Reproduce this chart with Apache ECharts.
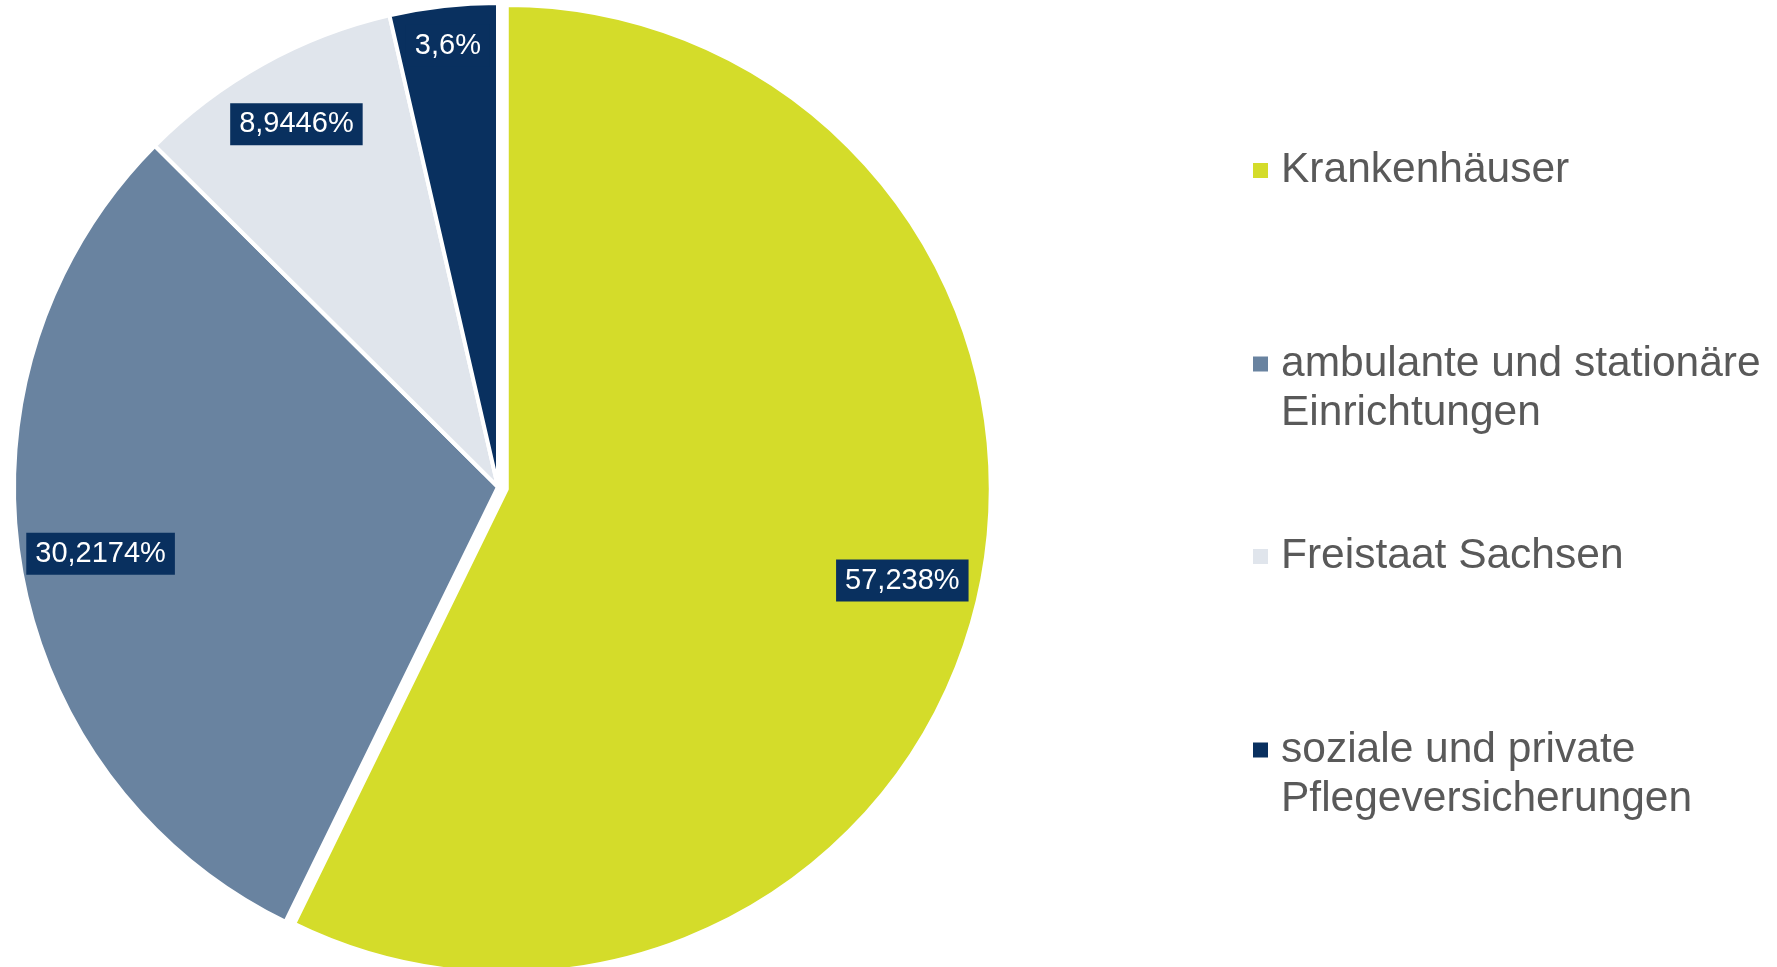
<!DOCTYPE html>
<html>
<head>
<meta charset="utf-8">
<script src="https://cdn.jsdelivr.net/npm/echarts@6/dist/echarts.min.js"></script>
<style>
html,body{margin:0;padding:0;background:#fff;}
#chart{width:1777px;height:967px;}
</style>
</head>
<body>
<div id="chart"></div>
<script>
// ---- data ----
var categories = ['Krankenhäuser', 'ambulante und stationäre\nEinrichtungen', 'Freistaat Sachsen', 'soziale und private\nPflegeversicherungen'];
var values = [57.238, 30.2174, 8.9446, 3.6];
var labelTexts = ['57,238%', '30,2174%', '8,9446%', '3,6%'];

// ---- styles / layout ----
var colors = ['#D4DC2A', '#6983A0', '#E0E5EC', '#09305F'];
var center = [498, 487];
var R = 484;
var labelRadius = [403, 400, 412, 441]; // radial distance of each label
var legendTops = [146, 290.5, 532, 676.5];
var font = '"Liberation Sans", Arial, sans-serif';

var chart = echarts.init(document.getElementById('chart'), null, {renderer: 'canvas'});

function mainData() {
  return categories.map(function (c, i) {
    return {name: c, value: values[i], selected: i === 0, itemStyle: {color: colors[i]}};
  });
}

var series = [{
  type: 'pie',
  center: center,
  radius: [0, R],
  startAngle: 90,
  clockwise: true,
  selectedMode: 'single',
  selectedOffset: 9,
  animation: false,
  label: {show: false},
  labelLine: {show: false},
  itemStyle: {borderColor: '#ffffff', borderWidth: 4},
  emphasis: {disabled: true},
  data: mainData()
}];

labelRadius.forEach(function (lr, k) {
  var w = (R - lr) * 2;
  series.push({
    type: 'pie',
    center: center,
    radius: [R - w, R],
    startAngle: 90,
    clockwise: true,
    selectedMode: 'single',
    selectedOffset: 9,
    animation: false,
    silent: true,
    legendHoverLink: false,
    labelLine: {show: false},
    emphasis: {disabled: true},
    itemStyle: {color: 'rgba(0,0,0,0)', borderWidth: 0},
    data: categories.map(function (c, i) {
      return {
        name: c, value: values[i], selected: i === 0,
        itemStyle: {color: 'rgba(0,0,0,0)'},
        label: {
          show: i === k,
          position: 'inside',
          formatter: labelTexts[i],
          color: '#ffffff',
          fontSize: 29,
          lineHeight: 32,
          fontFamily: font,
          backgroundColor: '#09305F',
          padding: [5, 9]
        }
      };
    })
  });
});

var legends = categories.map(function (c, i) {
  var multi = c.indexOf('\n') >= 0;
  return {
    orient: 'vertical',
    left: 1251,
    top: legendTops[i],
    padding: 0,
    itemGap: 0,
    itemWidth: 17,
    itemHeight: 17,
    icon: 'rect',
    selectedMode: false,
    data: [{name: c, icon: 'rect', itemStyle: {color: colors[i]}}],
    formatter: function (name) { return multi ? '\n' + name : name; },
    textStyle: {
      fontSize: 42.5,
      lineHeight: 49,
      color: '#595959',
      fontFamily: font,
      padding: [0, 0, 0, 7]
    }
  };
});

chart.setOption({
  backgroundColor: '#ffffff',
  animation: false,
  legend: legends,
  series: series
});
</script>
</body>
</html>
